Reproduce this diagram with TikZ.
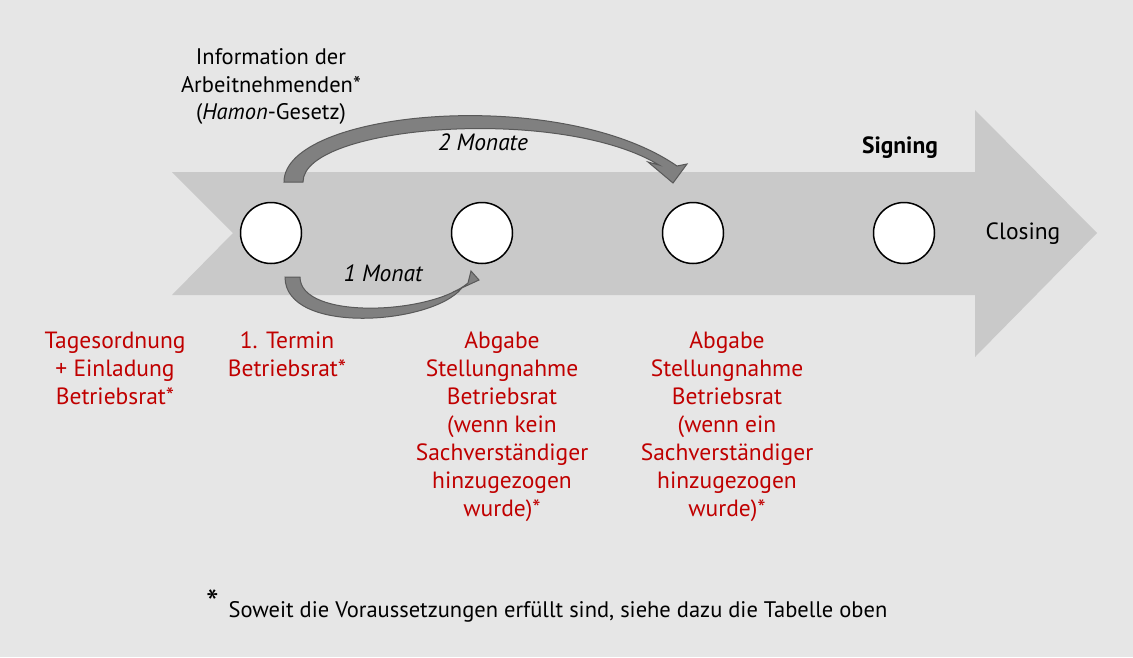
\documentclass[tikz,border=0pt]{standalone}
\usepackage{fontspec}
\setmainfont{PT Sans}
\definecolor{bggray}{HTML}{E6E6E6}
\definecolor{bandgray}{HTML}{C9C9C9}
\definecolor{dkred}{HTML}{C00000}
\tikzset{stopnode/.style={shape=circle,draw=black,fill=white,line width=1.5pt,minimum size=61pt,inner sep=0pt}}
\tikzset{redtxt/.style={text=dkred,align=center,anchor=north,inner sep=0pt,font=\fontsize{23.5}{28}\selectfont}}
\tikzset{plain/.style={align=center,inner sep=0pt,font=\fontsize{22.5}{28}\selectfont}}
\tikzset{bentarrow/.style={draw=black!65,fill=black!50,line width=1pt}}

\begin{document}
\begin{tikzpicture}[x=1pt,y=-1pt]
            % background and band
            \fill[bggray] (0,0) rectangle (1133,657);
            \useasboundingbox (0,0) rectangle (1133,657);
            \fill[bandgray] (172,172) -- (975,172) -- (975,110) -- (1097,233) -- (975,357)
                -- (975,295) -- (172,295) -- (233,233) -- cycle;
            % the four stops
            \foreach \i/\x in {1/271,2/482,3/693,4/904}
            {
                \node[stopnode] (s\i) at (\x,233) {};
            }
            % bent arrows
            \draw[bentarrow] (284,182) .. controls (284,110) and (560,85) .. (677,166)
                -- (687,164) -- (673,183) -- (648,162) -- (659,165)
                .. controls (560,105) and (303,125) .. (303,182) -- cycle;
            \draw[bentarrow] (285,277) .. controls (285,335) and (430,325) .. (461,289)
                -- (453,292) -- (479,280) -- (471,271) -- (468,283)
                .. controls (430,315) and (300,320) .. (300,277) -- cycle;
            % labels
            \node[plain] (info) at (271,71) {Information der\\Arbeitnehmenden*};
            \node[plain] (hamon) at (271,114) {(\textit{Hamon}-Gesetz)};
            \node[plain,font=\fontsize{23.5}{28}\selectfont\itshape] (two) at (483,142) {2 Monate};
            \node[plain,font=\fontsize{23.5}{28}\selectfont\itshape] (one) at (383,273) {1 Monat};
            \node[plain,font=\fontsize{23.5}{28}\selectfont\bfseries] (sign) at (900,148) {Signing};
            \node[plain,font=\fontsize{23.5}{28}\selectfont] (close) at (1023,234) {Closing};
            \node[redtxt] (t0) at (115,332) {Tagesordnung\\+ Einladung\\Betriebsrat*};
            \node[redtxt] (t1) at (287,332) {1. Termin\\Betriebsrat*};
            \node[redtxt] (t2) at (502,332) {Abgabe\\Stellungnahme\\Betriebsrat\\(wenn kein\\Sachverständiger\\hinzugezogen\\wurde)*};
            \node[redtxt] (t3) at (727,332) {Abgabe\\Stellungnahme\\Betriebsrat\\(wenn ein\\Sachverständiger\\hinzugezogen\\wurde)*};
            \node[plain,anchor=west,font=\fontsize{22.5}{26}\selectfont] (foot) at (206,606) {{\fontsize{36}{36}\selectfont\raisebox{2pt}{*}}\, Soweit die Voraussetzungen erfüllt sind, siehe dazu die Tabelle oben};
\end{tikzpicture}
\end{document}
